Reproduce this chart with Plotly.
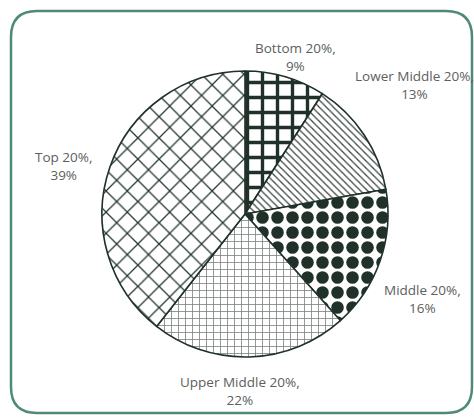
import plotly.graph_objects as go

# Income share held by each quintile of households
groups = ["Bottom 20%", "Lower Middle 20%", "Middle 20%", "Upper Middle 20%", "Top 20%"]
shares = [9, 13, 16, 22, 39]

W, H = 474, 417
INK = "#1f3129"

patterns = dict(
    shape=["+", "\\", ".", "+", "x"],
    fgcolor=[INK, "#3a4640", INK, "#7d827f", "#22352c"],
    bgcolor=["white"] * 5,
    size=[15, 5, 15, 7, 15],
    solidity=[0.4, 0.25, 0.55, 0.22, 0.16],
    fillmode="replace",
)

cx, cy, r = 245, 214, 143
fig = go.Figure(go.Pie(
    labels=groups,
    values=shares,
    sort=False,
    direction="clockwise",
    rotation=0,
    textinfo="none",
    hoverinfo="label+value",
    marker=dict(colors=["white"] * 5, pattern=patterns,
                line=dict(color=INK, width=1.6)),
    domain=dict(x=[(cx - r) / W, (cx + r) / W],
                y=[(H - cy - r) / H, (H - cy + r) / H]),
    showlegend=False,
))

# label anchor points (pixels from top-left)
label_pos = [(295, 57), (414, 85), (422, 299), (240, 391), (64, 166)]
for g, s, (px, py) in zip(groups, shares, label_pos):
    fig.add_annotation(
        x=px / W, y=1 - py / H, xref="paper", yref="paper",
        text=f"{g},<br>{s}%", showarrow=False,
        font=dict(family="Open Sans", size=13.5, color="#5c605d"),
        align="center", xanchor="center", yanchor="middle",
    )

# rounded frame around the chart
L, R, T, B, rad = 11, 472, 11, 413, 26
def p(x, y):
    return f"{x / W:.5f},{1 - y / H:.5f}"
path = (f"M {p(L + rad, T)} L {p(R - rad, T)} Q {p(R, T)} {p(R, T + rad)} "
        f"L {p(R, B - rad)} Q {p(R, B)} {p(R - rad, B)} "
        f"L {p(L + rad, B)} Q {p(L, B)} {p(L, B - rad)} "
        f"L {p(L, T + rad)} Q {p(L, T)} {p(L + rad, T)} Z")
fig.add_shape(type="path", path=path, xref="paper", yref="paper",
              line=dict(color="#4f8a79", width=2.5))

fig.update_layout(
    width=W, height=H,
    margin=dict(l=0, r=0, t=0, b=0),
    paper_bgcolor="white",
    plot_bgcolor="white",
)

fig.write_html("out.html")
